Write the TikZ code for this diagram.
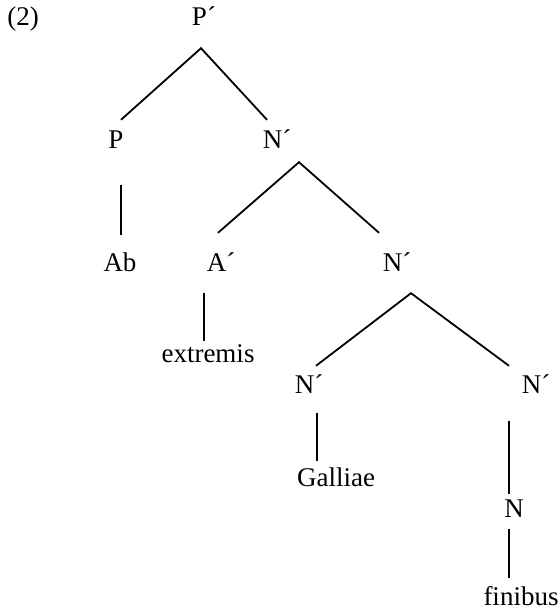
\documentclass[tikz,border=0pt]{standalone}
\usepackage{fontspec}
\setmainfont{Liberation Serif}
\usepackage{tikz}
\usetikzlibrary{positioning}

\begin{document}
\begin{tikzpicture}[
    x=1pt, y=-1pt,
    cat/.style={inner sep=0pt, anchor=base, text height=18pt, text depth=0pt,
                font=\fontsize{27}{31}\selectfont},
    branch/.style={line width=1.8pt}
]
\useasboundingbox (0,0) rectangle (559,612);

% ---- example number ----
\node[cat] (exno) at (23,26) {(2)};

% ---- categories ----
\node[cat] (pbar)  at (204,26)  {P´};
\node[cat] (p)     at (116,149) {P};
\node[cat] (nbarA) at (277,149) {N´};
\node[cat] (ab)    at (120,271) {Ab};
\node[cat] (abar)  at (221,271) {A´};
\node[cat] (nbarB) at (397,271) {N´};
\node[cat] (extr)  at (208,362) {extremis};
\node[cat] (nbarC) at (309,393) {N´};
\node[cat] (nbarD) at (536,393) {N´};
\node[cat] (gall)  at (336,486) {Galliae};
\node[cat] (n)     at (514,517) {N};
\node[cat] (fini)  at (521,605) {finibus};

% ---- branches ----
\draw[branch] ([xshift=5pt,yshift=11pt]p.north) -- ([xshift=-3pt,yshift=-22pt]pbar.south)
              -- ([xshift=-10pt,yshift=11pt]nbarA.north);
\draw[branch] ([xshift=5pt,yshift=-36pt]p.south) -- ([xshift=1pt,yshift=18pt]ab.north);
\draw[branch] ([xshift=-3pt,yshift=20pt]abar.north) -- ([xshift=22pt,yshift=-13pt]nbarA.south)
              -- ([xshift=-18pt,yshift=20pt]nbarB.north);
\draw[branch] ([xshift=-17pt,yshift=-22pt]abar.south) -- ([xshift=-4pt,yshift=3pt]extr.north);
\draw[branch] ([xshift=7pt,yshift=9pt]nbarC.north) -- ([xshift=14pt,yshift=-22pt]nbarB.south)
              -- ([xshift=-27pt,yshift=9pt]nbarD.north);
\draw[branch] ([xshift=8pt,yshift=-20pt]nbarC.south) -- ([xshift=-19pt,yshift=7pt]gall.north);
\draw[branch] ([xshift=-27pt,yshift=-28pt]nbarD.south) -- ([xshift=-5pt,yshift=5pt]n.north);
\draw[branch] ([xshift=-5pt,yshift=-12pt]n.south) -- ([xshift=-12pt,yshift=9pt]fini.north);

\end{tikzpicture}
\end{document}
